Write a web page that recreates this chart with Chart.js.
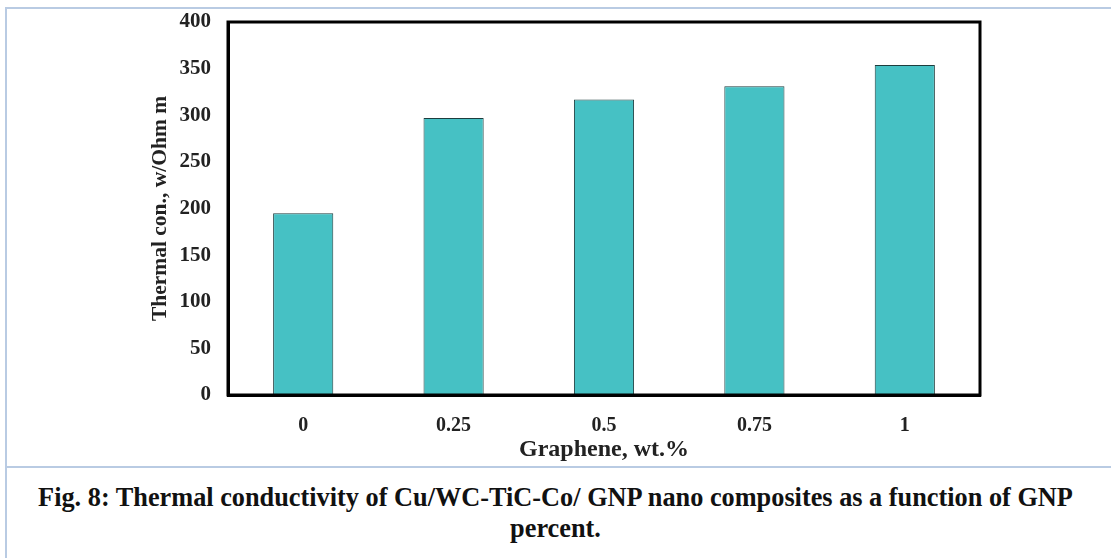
<!DOCTYPE html>
<html>
<head>
<meta charset="utf-8">
<script src="https://cdn.jsdelivr.net/npm/chart.js@4.4.0/dist/chart.umd.min.js"></script>
<style>
  html, body { margin: 0; padding: 0; background: #fff; }
  body { width: 1111px; height: 558px; position: relative; overflow: hidden; }
  #frameTop { position: absolute; left: 6px; top: 7px; width: 1105px; height: 0; border-top: 2px solid #b9cbe3; }
  #frameLeft { position: absolute; left: 5px; top: 7px; width: 0; height: 551px; border-left: 2px solid #b9cbe3; }
  #frameMid { position: absolute; left: 6px; top: 466px; width: 1105px; height: 0; border-top: 2px solid #b9cbe3; }
  #wrap { position: absolute; left: 0; top: 0; width: 1111px; height: 465px; }
  #caption { position: absolute; left: 0; top: 482px; width: 1111px; text-align: center;
    font-family: "Liberation Serif", "Times New Roman", serif; font-weight: bold; font-size: 26.3px; line-height: 31px; color: #111; }
</style>
</head>
<body>
<div id="frameTop"></div>
<div id="frameLeft"></div>
<div id="frameMid"></div>
<div id="wrap"><canvas id="chart" width="1111" height="465"></canvas></div>
<div id="caption">Fig. 8: Thermal conductivity of Cu/WC-TiC-Co/ GNP nano composites as a function of GNP<br>percent.</div>
<script>
// graphene content (wt.%) and thermal conductivity
const categories = ['0', '0.25', '0.5', '0.75', '1'];
const thermalCon = [195, 297, 317, 331, 354];
const yTicks = [0, 50, 100, 150, 200, 250, 300, 350, 400];

const serif = '"Liberation Serif", "Times New Roman", serif';

// draw the full box round the plot area
const boxPlugin = {
  id: 'box',
  afterDraw(chart) {
    const a = chart.chartArea;
    const ctx = chart.ctx;
    ctx.save();
    ctx.strokeStyle = '#000';
    ctx.lineWidth = 3;
    ctx.strokeRect(a.left, a.top, a.right - a.left, a.bottom - a.top);
    ctx.restore();
  }
};

new Chart(document.getElementById('chart'), {
  type: 'bar',
  data: {
    labels: categories,
    datasets: [{
      data: thermalCon,
      backgroundColor: '#46c1c4',
      borderColor: '#1d3d3e',
      borderWidth: 1,
      barPercentage: 0.4,
      categoryPercentage: 1
    }]
  },
  options: {
    responsive: false,
    animation: false,
    layout: { padding: { left: 140, top: 22, right: 131, bottom: 1 } },
    plugins: { legend: { display: false }, tooltip: { enabled: false } },
    scales: {
      x: {
        grid: { display: false, drawTicks: false },
        border: { display: true, color: '#000', width: 3 },
        ticks: { color: '#222', padding: 19, font: { family: serif, weight: 'bold', size: 20 } },
        title: { display: true, text: 'Graphene, wt.%', color: '#222', padding: { top: 2, bottom: 0 },
          font: { family: serif, weight: 'bold', size: 24 } },
        afterFit(s) { s.height = 69; s.paddingLeft = 0; s.paddingRight = 0; }
      },
      y: {
        min: 0, max: 400,
        grid: { display: false, drawTicks: false },
        border: { display: true, color: '#000', width: 3 },
        afterBuildTicks(s) { s.ticks = yTicks.map(v => ({ value: v })); },
        ticks: { color: '#222', padding: 17, font: { family: serif, weight: 'bold', size: 21 } },
        title: { display: true, text: 'Thermal con., w/Ohm m', color: '#222', padding: { top: 8, bottom: 0 },
          font: { family: serif, weight: 'bold', size: 21.5 } },
        afterFit(s) { s.width = 88; s.paddingTop = 0; s.paddingBottom = 0; }
      }
    }
  },
  plugins: [boxPlugin]
});
</script>
</body>
</html>
